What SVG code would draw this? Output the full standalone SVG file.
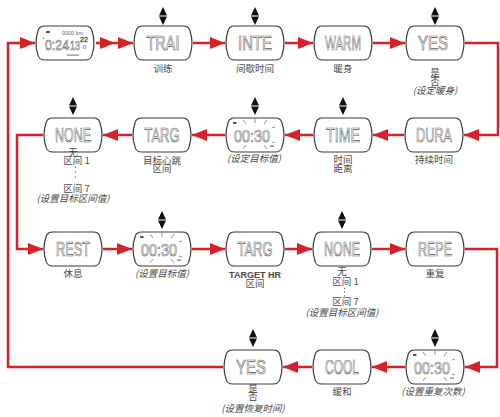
<svg xmlns="http://www.w3.org/2000/svg" width="500" height="417" viewBox="0 0 500 417">
<style>
.shape{fill:#fff;stroke:#3a3a3a;stroke-width:1.2}
.lcd{font-family:"Liberation Sans",Arial,sans-serif;font-size:20px;fill:none;stroke:#555;stroke-width:0.65;text-anchor:middle}
.lcds{font-family:"Liberation Sans",Arial,sans-serif;fill:none;stroke:#666;stroke-width:0.6;text-anchor:middle}
.tiny{font-family:"Liberation Sans",Arial,sans-serif;font-size:5.5px;fill:#666;text-anchor:middle}
.lbl{font-family:"Noto Sans CJK SC","Noto Sans",sans-serif;font-size:9.5px;fill:#4a4a4a;text-anchor:middle}
.lat{font-family:"Liberation Sans",Arial,sans-serif;font-size:9px;fill:#4a4a4a;text-anchor:middle;font-weight:bold}
.it{font-style:italic}
.conn{fill:none;stroke:#d7202a;stroke-width:2.5}
.ud{fill:#111}
.ray{stroke:#777;stroke-width:0.8;fill:none}
.dot{fill:#666}
</style>
<defs>
<path id="shp" d="M9,0 H49 Q55,0 56,5 Q60,17 56,29 Q55,34 49,34 H9 Q3,34 2,29 Q-2,17 2,5 Q3,0 9,0 Z"/>
<marker id="ah" viewBox="0 0 15 12" refX="15" refY="6" markerWidth="15" markerHeight="12" markerUnits="userSpaceOnUse" orient="auto"><path d="M0,0 L15,6 L0,12 Z" fill="#d7202a"/></marker>
<path id="ud" d="M-4,8.5 L0,0 L4,8.5 Z M-4,9.5 L4,9.5 L0,18 Z"/>
<g id="flash">
<use href="#shp" class="shape"/>
<rect x="7" y="4" width="3.5" height="2" fill="#555"/>
<text class="lcds" x="26" y="24" font-size="17" textLength="36" lengthAdjust="spacingAndGlyphs">00:30</text>
<path class="ray" d="M17,2 L20,6 M29,0.5 V5 M41,2 L38,6 M17,31 L20,27 M41,31 L38,27 M46,10 L49,9 M46,24 L49,25"/>
<rect x="44" y="27.5" width="4" height="1.2" fill="#777"/>
</g>
</defs>

<g id="connectors">
<path class="conn" d="M96,43 L115,43 L133,43" marker-mid="url(#ah)" marker-end="url(#ah)"/>
<path class="conn" d="M193,43 H225" marker-end="url(#ah)"/>
<path class="conn" d="M285,43 H313" marker-end="url(#ah)"/>
<path class="conn" d="M373,43 H405" marker-end="url(#ah)"/>
<path class="conn" d="M465,43 H498 V135 H464" marker-end="url(#ah)"/>
<path class="conn" d="M404,135 H373" marker-end="url(#ah)"/>
<path class="conn" d="M313,135 H285" marker-end="url(#ah)"/>
<path class="conn" d="M225,135 H192" marker-end="url(#ah)"/>
<path class="conn" d="M132,135 H103" marker-end="url(#ah)"/>
<path class="conn" d="M43,135 H17 V249 H43" marker-end="url(#ah)"/>
<path class="conn" d="M103,249 H132" marker-end="url(#ah)"/>
<path class="conn" d="M192,249 H225" marker-end="url(#ah)"/>
<path class="conn" d="M285,249 H312" marker-end="url(#ah)"/>
<path class="conn" d="M372,249 H405" marker-end="url(#ah)"/>
<path class="conn" d="M465,249 H497 V367 H465" marker-end="url(#ah)"/>
<path class="conn" d="M405,367 H372" marker-end="url(#ah)"/>
<path class="conn" d="M312,367 H283" marker-end="url(#ah)"/>
<path class="conn" d="M223,367 H8 V43 H35" marker-end="url(#ah)"/>
</g>

<g id="updown">
<use href="#ud" class="ud" x="163" y="7"/>
<use href="#ud" class="ud" x="255" y="7"/>
<use href="#ud" class="ud" x="435" y="7"/>
<use href="#ud" class="ud" x="73" y="97"/>
<use href="#ud" class="ud" x="255" y="97"/>
<use href="#ud" class="ud" x="343" y="97"/>
<use href="#ud" class="ud" x="162" y="211"/>
<use href="#ud" class="ud" x="342" y="211"/>
<use href="#ud" class="ud" x="253" y="329"/>
<use href="#ud" class="ud" x="435" y="329"/>
</g>

<g id="n_home">
<g transform="translate(36,26)">
<use href="#shp" class="shape"/>
<rect x="10" y="5" width="4" height="2" fill="#555"/>
<text class="tiny" x="36.5" y="9">0000 km</text>
<path class="ray" d="M7,13 L8,11"/>
<text class="lcds" x="21" y="24" font-size="15" textLength="24" lengthAdjust="spacingAndGlyphs">0:24</text>
<text class="lcds" x="39" y="24" font-size="13" textLength="10" lengthAdjust="spacingAndGlyphs">13</text>
<text class="lcds" x="48" y="16" font-size="8" textLength="8" lengthAdjust="spacingAndGlyphs">22</text>
<circle cx="48.5" cy="21" r="1.5" class="ray"/>
<rect x="31" y="28.5" width="12" height="1.2" fill="#888"/>
</g>
</g>

<g id="n_trai">
<g transform="translate(134,26)"><use href="#shp" class="shape"/><text class="lcd" x="29" y="24" textLength="33" lengthAdjust="spacingAndGlyphs">TRAI</text></g>
<text class="lbl" x="163" y="71.5">训练</text>
</g>
<g id="n_inte">
<g transform="translate(226,26)"><use href="#shp" class="shape"/><text class="lcd" x="29" y="24" textLength="34" lengthAdjust="spacingAndGlyphs">INTE</text></g>
<text class="lbl" x="255" y="71.5">间歇时间</text>
</g>
<g id="n_warm">
<g transform="translate(314,26)"><use href="#shp" class="shape"/><text class="lcd" x="29" y="24" textLength="36" lengthAdjust="spacingAndGlyphs">WARM</text></g>
<text class="lbl" x="343" y="71.5">暖身</text>
</g>
<g id="n_yes1">
<g transform="translate(406,26)"><use href="#shp" class="shape"/><text class="lcd" x="27" y="24" textLength="30" lengthAdjust="spacingAndGlyphs">YES</text></g>
<text class="lbl" x="435" y="76">是<tspan x="435" dy="8.5">否</tspan><tspan x="435" dy="9" class="it">(设定暖身)</tspan></text>
</g>

<g id="n_none1">
<g transform="translate(44,118)"><use href="#shp" class="shape"/><text class="lcd" x="29" y="24" textLength="36" lengthAdjust="spacingAndGlyphs">NONE</text></g>
<text class="lbl" x="73" y="156">无<tspan x="76.5" dy="8">区间 1</tspan><tspan x="76.5" dy="28">区间 7</tspan><tspan x="73" dy="10" class="it">(设置目标区间值)</tspan></text>
<circle class="dot" cx="75.5" cy="167.5" r="0.7"/><circle class="dot" cx="75.5" cy="172" r="0.7"/><circle class="dot" cx="75.5" cy="177" r="0.7"/>
</g>
<g id="n_targ1">
<g transform="translate(133,118)"><use href="#shp" class="shape"/><text class="lcd" x="29" y="24" textLength="35" lengthAdjust="spacingAndGlyphs">TARG</text></g>
<text class="lbl" x="162" y="163.5">目标心跳<tspan x="162" dy="8.5">区间</tspan></text>
</g>
<g id="n_set1">
<use href="#flash" transform="translate(226,118)"/>
<text class="lbl it" x="254" y="162">(设定目标值)</text>
</g>
<g id="n_time">
<g transform="translate(314,118)"><use href="#shp" class="shape"/><text class="lcd" x="29" y="24" textLength="34" lengthAdjust="spacingAndGlyphs">TIME</text></g>
<text class="lbl" x="343" y="163">时间<tspan x="343" dy="9">距离</tspan></text>
</g>
<g id="n_dura">
<g transform="translate(405,118)"><use href="#shp" class="shape"/><text class="lcd" x="29" y="24" textLength="36" lengthAdjust="spacingAndGlyphs">DURA</text></g>
<text class="lbl" x="434" y="163">持续时间</text>
</g>

<g id="n_rest">
<g transform="translate(44,232)"><use href="#shp" class="shape"/><text class="lcd" x="29" y="24" textLength="34" lengthAdjust="spacingAndGlyphs">REST</text></g>
<text class="lbl" x="73" y="277">休息</text>
</g>
<g id="n_set2">
<use href="#flash" transform="translate(133,232)"/>
<text class="lbl it" x="162" y="277">(设置目标值)</text>
</g>
<g id="n_targ2">
<g transform="translate(226,232)"><use href="#shp" class="shape"/><text class="lcd" x="29" y="24" textLength="35" lengthAdjust="spacingAndGlyphs">TARG</text></g>
<text class="lbl" x="255" y="278"><tspan class="lat" x="255">TARGET HR</tspan><tspan x="255" dy="9">区间</tspan></text>
</g>
<g id="n_none2">
<g transform="translate(313,232)"><use href="#shp" class="shape"/><text class="lcd" x="29" y="24" textLength="36" lengthAdjust="spacingAndGlyphs">NONE</text></g>
<text class="lbl" x="342" y="275">无<tspan x="345.5" dy="10">区间 1</tspan><tspan x="345.5" dy="20">区间 7</tspan><tspan x="342" dy="11" class="it">(设置目标区间值)</tspan></text>
<circle class="dot" cx="344.5" cy="288.5" r="0.7"/><circle class="dot" cx="344.5" cy="292" r="0.7"/><circle class="dot" cx="344.5" cy="296" r="0.7"/>
</g>
<g id="n_repe">
<g transform="translate(406,232)"><use href="#shp" class="shape"/><text class="lcd" x="29" y="24" textLength="34" lengthAdjust="spacingAndGlyphs">REPE</text></g>
<text class="lbl" x="435" y="277">重复</text>
</g>

<g id="n_yes2">
<g transform="translate(224,350)"><use href="#shp" class="shape"/><text class="lcd" x="27" y="24" textLength="30" lengthAdjust="spacingAndGlyphs">YES</text></g>
<text class="lbl" x="253" y="391.5">是<tspan x="253" dy="8">否</tspan><tspan x="253" dy="12.5" class="it">(设置恢复时间)</tspan></text>
</g>
<g id="n_cool">
<g transform="translate(313,350)"><use href="#shp" class="shape"/><text class="lcd" x="29" y="24" textLength="34" lengthAdjust="spacingAndGlyphs">COOL</text></g>
<text class="lbl" x="342" y="395">缓和</text>
</g>
<g id="n_set3">
<use href="#flash" transform="translate(406,350)"/>
<text class="lbl it" x="433" y="395">(设置重复次数)</text>
</g>
</svg>
